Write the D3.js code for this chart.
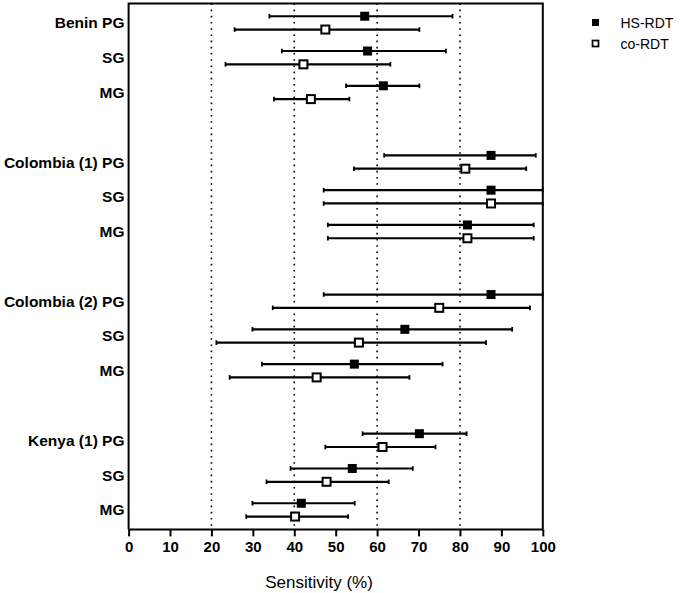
<!DOCTYPE html>
<html>
<head>
<meta charset="utf-8">
<script src="https://cdn.jsdelivr.net/npm/d3@7"></script>
<style>
  html, body { margin: 0; padding: 0; background: #fff; }
  svg { display: block; font-family: "Liberation Sans", Arial, sans-serif; }
</style>
</head>
<body>
<svg id="chart" width="685" height="593"></svg>
<script>
// Row labels (blank strings are spacer rows between studies)
const rowLabels = ["Benin PG", "SG", "MG", "",
                   "Colombia (1) PG", "SG", "MG", "",
                   "Colombia (2) PG", "SG", "MG", "",
                   "Kenya (1) PG", "SG", "MG"];
const rowKeys = rowLabels.map((d, i) => "r" + i);
const seriesNames = ["HS-RDT", "co-RDT"];

// HS-RDT: sensitivity, lower CI, upper CI (per data row, spacers skipped)
const hsValue = [57.0, 57.7, 61.5, 87.5, 87.5, 81.8, 87.5, 66.7, 54.5, 70.2, 54.0, 41.7];
const hsLow   = [34.0, 37.0, 52.5, 61.7, 47.1, 48.1, 47.1, 29.9, 32.2, 56.5, 39.1, 29.9];
const hsHigh  = [78.2, 76.6, 70.2, 98.3, 100, 97.8, 100, 92.6, 75.8, 81.6, 68.6, 54.6];
// co-RDT
const coValue = [47.5, 42.2, 44.0, 81.3, 87.5, 81.8, 75.0, 55.6, 45.4, 61.3, 47.8, 40.2];
const coLow   = [25.6, 23.4, 35.1, 54.4, 47.1, 48.1, 34.8, 21.2, 24.4, 47.5, 33.3, 28.4];
const coHigh  = [70.2, 63.2, 53.3, 96.0, 100, 97.8, 96.9, 86.3, 67.8, 74.1, 62.8, 53.0];

const xTicks = [0, 10, 20, 30, 40, 50, 60, 70, 80, 90, 100];
const refLines = [20, 40, 60, 80];
const xTitle = "Sensitivity (%)";

// ---------------------------------------------------------------
const svg = d3.select("#chart");
const pLeft = 128.6, pRight = 542.8, pTop = 3.4, pBottom = 529.4;

const x = d3.scaleLinear().domain([0, 100]).range([pLeft, pRight]);
const y = d3.scaleBand().domain(rowKeys).range([pTop, pBottom]).paddingInner(0).paddingOuter(0.06);
const off = 6.65;

// data rows -> row keys
const dataRows = rowKeys.filter((k, i) => rowLabels[i] !== "");
const hs = dataRows.map((k, i) => ({row: k, v: hsValue[i], lo: hsLow[i], hi: hsHigh[i], dy: -off}));
const co = dataRows.map((k, i) => ({row: k, v: coValue[i], lo: coLow[i], hi: coHigh[i], dy: off}));

// reference dotted lines
svg.append("g").selectAll("line").data(refLines).join("line")
  .attr("x1", d => x(d)).attr("x2", d => x(d))
  .attr("y1", pTop).attr("y2", pBottom)
  .attr("stroke", "#000").attr("stroke-width", 1.6)
  .attr("stroke-dasharray", "1.6,4.6");

// frame (left, top, right)
svg.append("path")
  .attr("d", `M${pLeft},${pBottom}V${pTop}H${pRight}V${pBottom}`)
  .attr("fill", "none").attr("stroke", "#000").attr("stroke-width", 2);

// x axis
const xAxis = d3.axisBottom(x).tickValues(xTicks).tickSize(7).tickPadding(5).tickFormat(d3.format("d"));
const gx = svg.append("g").attr("transform", `translate(0,${pBottom})`).call(xAxis);
gx.select(".domain").attr("stroke-width", 2).attr("d", `M${pLeft},0H${pRight}`);
gx.selectAll(".tick line").attr("stroke-width", 2);
gx.selectAll(".tick text").attr("font-size", 15).attr("font-weight", "bold")
  .attr("font-family", "Liberation Sans, Arial, sans-serif").attr("fill", "#000");

svg.append("text").attr("x", 319).attr("y", 587.5)
  .attr("text-anchor", "middle").attr("font-size", 17).attr("fill", "#000")
  .text(xTitle);

// row labels
svg.append("g").selectAll("text").data(rowKeys.map((k, i) => ({k, t: rowLabels[i]})).filter(d => d.t !== ""))
  .join("text")
  .attr("x", 124.5).attr("y", d => y(d.k) + y.bandwidth() / 2 + 5.5)
  .attr("text-anchor", "end").attr("font-size", 15.5).attr("font-weight", "bold").attr("fill", "#000")
  .text(d => d.t);

// error bars
function drawSeries(data, filled) {
  const g = svg.append("g");
  const cy = d => y(d.row) + y.bandwidth() / 2 + d.dy;
  g.selectAll("line.bar").data(data).join("line").attr("class", "bar")
    .attr("x1", d => x(d.lo)).attr("x2", d => x(d.hi))
    .attr("y1", cy).attr("y2", cy)
    .attr("stroke", "#000").attr("stroke-width", 2.2);
  ["lo", "hi"].forEach(key => {
    g.selectAll("line.cap" + key).data(data).join("line").attr("class", "cap" + key)
      .attr("x1", d => x(d[key])).attr("x2", d => x(d[key]))
      .attr("y1", d => cy(d) - 2.3).attr("y2", d => cy(d) + 2.3)
      .attr("stroke", "#000").attr("stroke-width", 1.8);
  });
  const s = filled ? 9 : 8;
  g.selectAll("rect").data(data).join("rect")
    .attr("x", d => x(d.v) - s / 2).attr("y", d => cy(d) - s / 2)
    .attr("width", s).attr("height", s)
    .attr("fill", filled ? "#000" : "#fff")
    .attr("stroke", "#000").attr("stroke-width", filled ? 0 : 2);
}
drawSeries(hs, true);
drawSeries(co, false);

// legend
const legend = svg.append("g");
const legY = [22.5, 43.5];
seriesNames.forEach((name, i) => {
  const s = i === 0 ? 7 : 6;
  legend.append("rect")
    .attr("x", 595.5 - s / 2).attr("y", legY[i] - s / 2).attr("width", s).attr("height", s)
    .attr("fill", i === 0 ? "#000" : "#fff").attr("stroke", "#000").attr("stroke-width", i === 0 ? 0 : 1.7);
  legend.append("text").attr("x", 620.5).attr("y", legY[i] + 5)
    .attr("font-size", 14).attr("fill", "#000").text(name);
});
</script>
</body>
</html>
